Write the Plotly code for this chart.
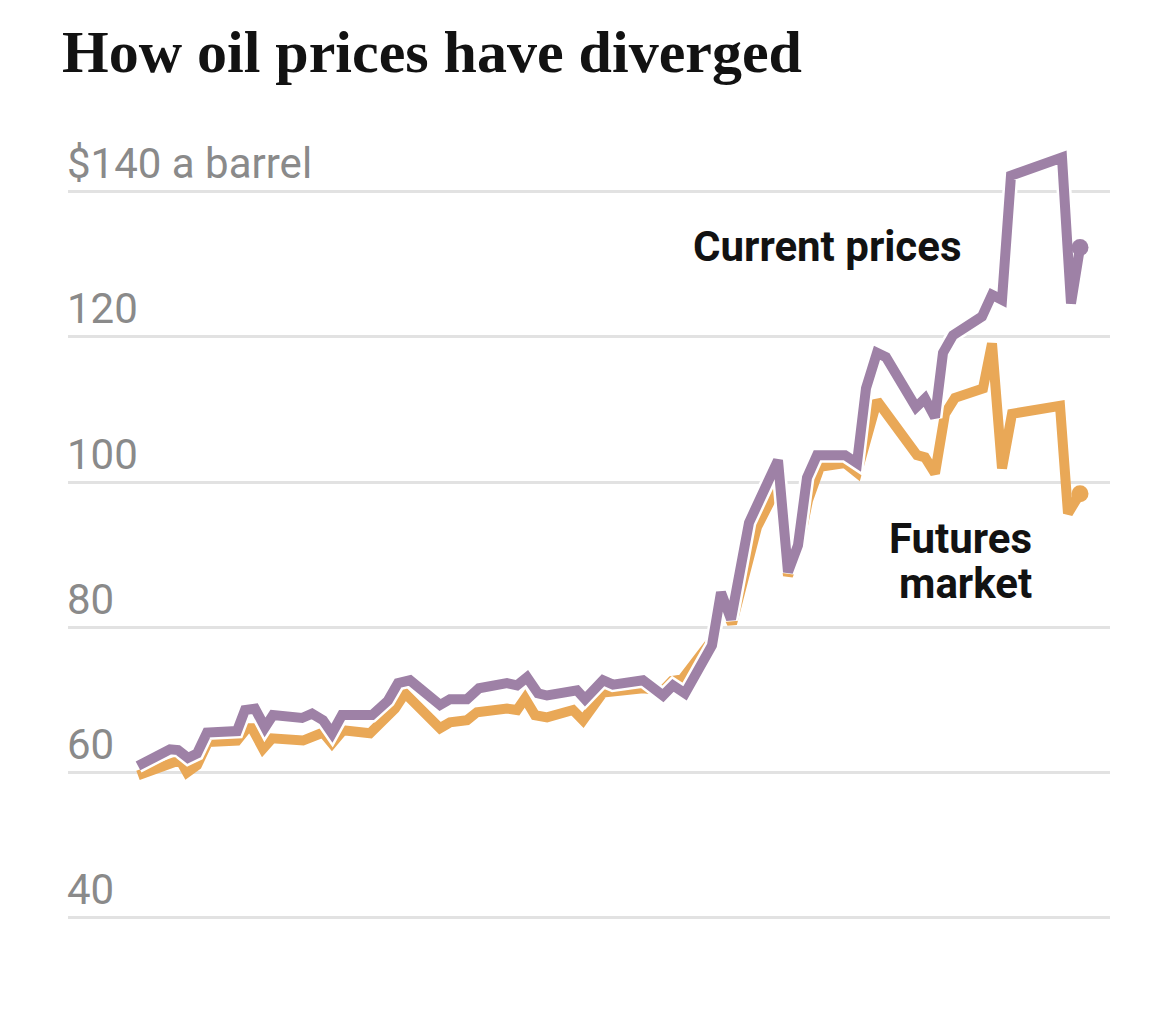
import plotly.graph_objects as go

# days since the first reading, and prices in $ a barrel
current_day = [0, 32, 40, 50, 59, 69, 99, 107, 117, 127, 135, 164, 174, 185, 194, 204,
               234, 245, 250, 260, 272, 302, 312, 329, 341, 369, 379, 389, 400, 409,
               439, 447, 465, 475, 505, 525, 535, 547, 574, 583, 593, 611, 640, 650,
               660, 669, 679, 707, 719, 728, 739, 748, 778, 787, 797, 805, 815, 844,
               854, 864, 873, 924, 933, 942]
current_price = [60.9, 63.2, 63.1, 62.0, 62.6, 65.5, 65.7, 68.6, 68.8, 66.2, 67.9, 67.5,
                 68.1, 67.2, 65.4, 67.9, 67.9, 69.5, 69.9, 72.3, 72.7, 69.3, 70.1, 70.1,
                 71.6, 72.3, 72.0, 73.1, 70.9, 70.6, 71.3, 70.1, 72.7, 72.1, 72.7, 70.6,
                 72.0, 70.9, 77.5, 84.8, 81.1, 94.4, 103.0, 87.6, 91.3, 100.6, 103.7,
                 103.7, 102.6, 112.9, 117.8, 117.2, 110.3, 111.5, 108.9, 117.8, 120.2,
                 122.8, 125.8, 125.1, 142.2, 144.7, 124.6, 132.3]

futures_day = [0, 42, 49, 59, 70, 99, 109, 114, 125, 134, 165, 174, 185, 194, 205, 232,
               245, 257, 267, 302, 312, 329, 339, 369, 379, 387, 397, 409, 435, 445,
               465, 475, 505, 525, 534, 544, 559, 574, 583, 594, 619, 640, 650, 660,
               670, 682, 707, 719, 739, 779, 787, 797, 807, 817, 845, 854, 864, 874,
               922, 930, 942]
futures_price = [59.6, 61.7, 60.0, 61.0, 64.2, 64.4, 66.1, 66.1, 63.3, 64.7, 64.4, 65.0,
                 65.5, 64.0, 65.8, 65.4, 67.2, 68.8, 70.9, 66.1, 66.9, 67.2, 68.3, 68.8,
                 68.6, 70.2, 67.9, 67.6, 68.6, 67.2, 71.0, 71.2, 71.6, 71.3, 72.6, 72.8,
                 75.8, 78.2, 83.7, 80.5, 93.8, 99.5, 87.1, 90.6, 97.5, 102.1, 102.6,
                 101.3, 111.2, 103.7, 103.4, 101.2, 109.4, 111.6, 112.9, 119.1, 101.9,
                 109.4, 110.5, 95.7, 98.4]

grid_values = [40, 60, 80, 100, 120, 140]
grid_labels = ["40", "60", "80", "100", "120", "$140 a barrel"]

purple = "#9e81a6"
orange = "#e9a857"

fig = go.Figure()

# futures line (underneath)
fig.add_trace(go.Scatter(x=futures_day, y=futures_price, mode="lines",
                         line=dict(color=orange, width=10), hoverinfo="skip"))
fig.add_trace(go.Scatter(x=futures_day[-1:], y=futures_price[-1:], mode="markers",
                         marker=dict(color=orange, size=17), hoverinfo="skip"))

# white halo so the purple line sits on top cleanly
fig.add_trace(go.Scatter(x=current_day, y=current_price, mode="lines",
                         line=dict(color="white", width=15), hoverinfo="skip"))
fig.add_trace(go.Scatter(x=current_day, y=current_price, mode="lines",
                         line=dict(color=purple, width=10), hoverinfo="skip"))
fig.add_trace(go.Scatter(x=current_day[-1:], y=current_price[-1:], mode="markers",
                         marker=dict(color=purple, size=17), hoverinfo="skip"))

# y labels sit just above their gridlines, flush left
for val, lab in zip(grid_values, grid_labels):
    fig.add_annotation(x=0, xref="paper", y=val, yref="y", text=lab,
                       xanchor="left", yanchor="middle", yshift=28, xshift=-3,
                       showarrow=False,
                       font=dict(family="Roboto", size=42, color="#8a8a8a"))

label_font = dict(family="Roboto", size=42, color="#121212")
fig.add_annotation(x=689, y=132.4, text="<b>Current prices</b>", showarrow=False,
                   xanchor="center", yanchor="middle", font=label_font)
fig.add_annotation(x=896, y=92.2, text="<b>Futures</b>", showarrow=False,
                   xanchor="right", yanchor="middle", font=label_font)
fig.add_annotation(x=896, y=86.0, text="<b>market</b>", showarrow=False,
                   xanchor="right", yanchor="middle", font=label_font)

fig.update_layout(
    width=1170, height=1015,
    paper_bgcolor="white", plot_bgcolor="white",
    showlegend=False,
    margin=dict(l=60, r=68, t=111, b=69),
    title=dict(text="<b>How oil prices have diverged</b>", x=54 / 1170, xanchor="left",
               y=1 - 43 / 1015, yanchor="middle",
               font=dict(family="Liberation Serif", size=60, color="#121212")),
    xaxis=dict(range=[-70, 972], showgrid=False, zeroline=False, showticklabels=False,
               ticks="", showline=False, fixedrange=True),
    yaxis=dict(range=[35, 150], tickvals=grid_values, showticklabels=False, ticks="",
               showgrid=True, gridcolor="#e2e2e2", gridwidth=3, zeroline=False,
               showline=False, fixedrange=True),
)

fig.write_html("out.html")
